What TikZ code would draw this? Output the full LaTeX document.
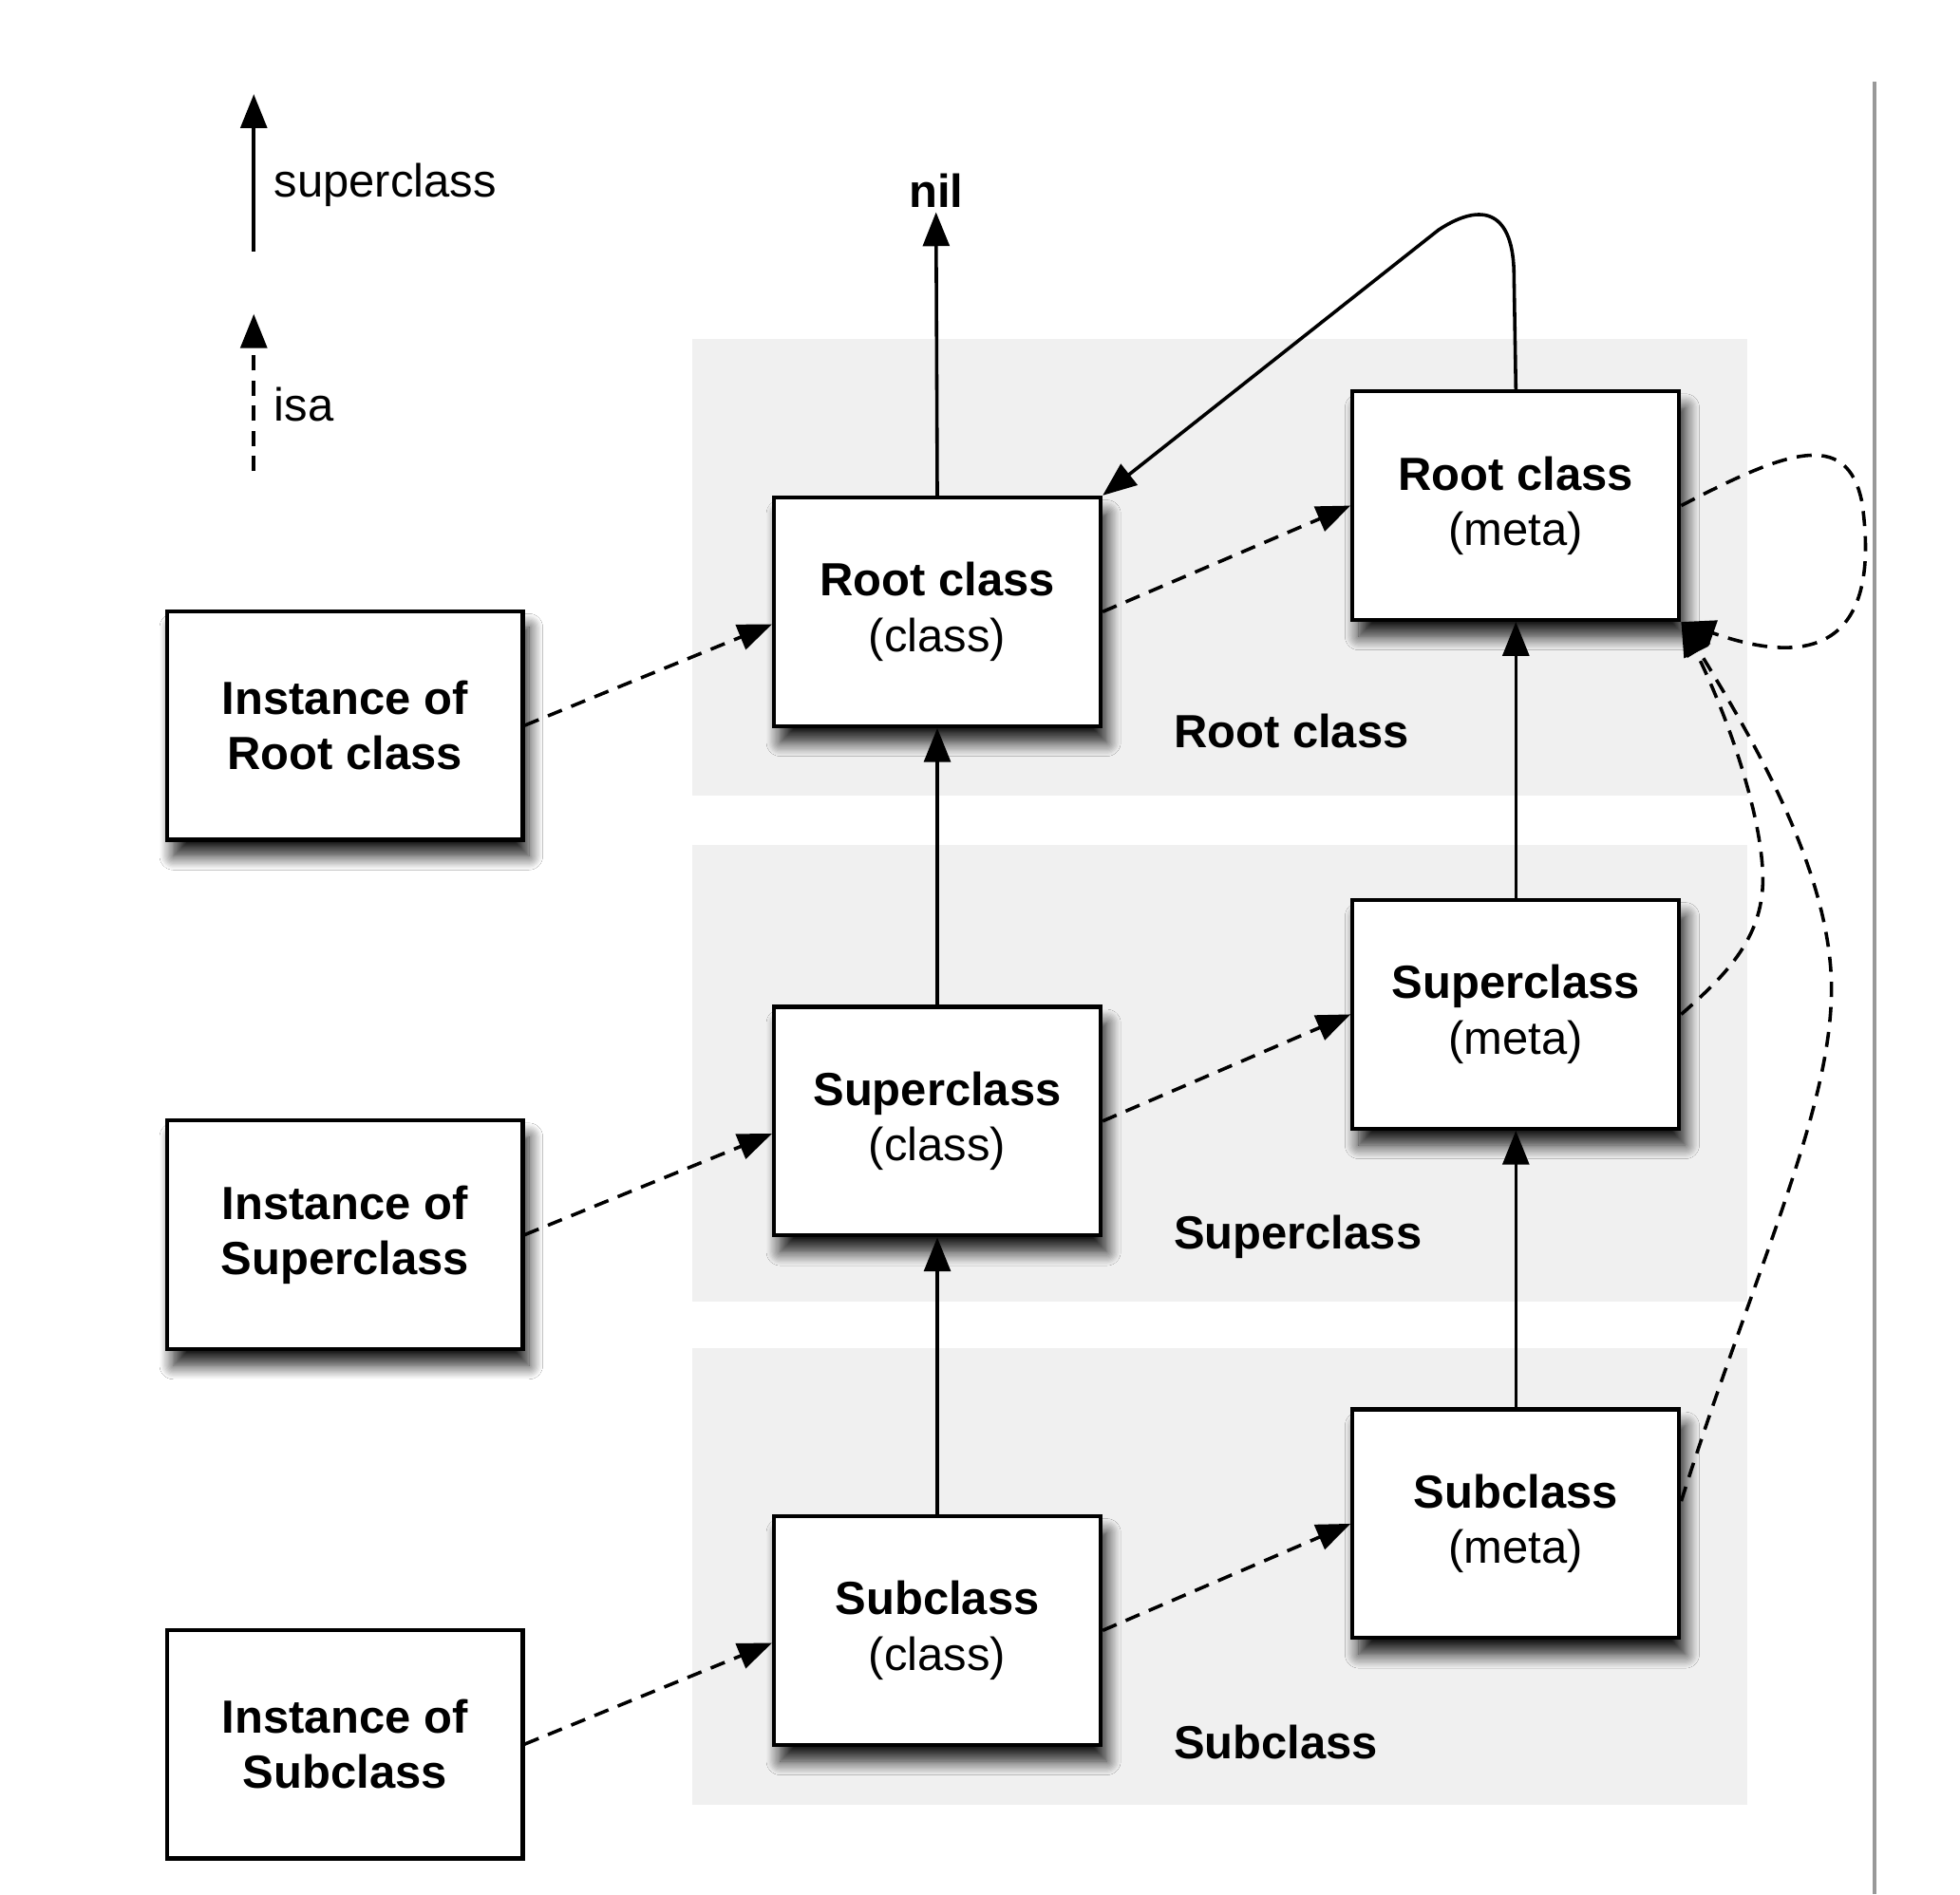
\documentclass[tikz,border=0pt]{standalone}
\usepackage{fontspec}
\setmainfont{Liberation Sans}
\usetikzlibrary{arrows.meta,shadows.blur}
\begin{document}
\begin{tikzpicture}[x=1pt,y=-1pt,
  box/.style={draw=black, line width=3.2pt, fill=white, minimum width=260pt, minimum height=182pt, align=center, inner sep=0pt, font=\fontsize{37}{44}\selectfont},
  ibox/.style={box, minimum width=283pt},
  shad/.style={blur shadow={shadow xshift=5pt, shadow yshift=-13pt, shadow blur radius=11pt, shadow opacity=90, shadow blur steps=12}},
  band/.style={fill=black!6, draw=none},
  supar/.style={-{Triangle[length=27pt,width=21pt]}, line width=2.7pt},
  isaar/.style={supar, dash pattern=on 12pt off 8pt},
  lbl/.style={font=\fontsize{37}{44}\selectfont\bfseries, anchor=west, inner sep=0pt},
  leg/.style={font=\fontsize{37}{44}\selectfont, anchor=west, inner sep=0pt},
]
\useasboundingbox (0,0) rectangle (1560,1508);
\fill[white] (0,0) rectangle (1560,1508);

% bands
\fill[band] (551,270) rectangle (1391,633);
\fill[band] (551,673) rectangle (1391,1036);
\fill[band] (551,1073) rectangle (1391,1437);

% right rule
\draw[black!40, line width=2.5pt] (1492,65) -- (1492,1508);

% legend
\coordinate (l1a) at (202,200);
\coordinate (l1b) at (202,75);
\coordinate (l2a) at (202,375);
\coordinate (l2b) at (202,250);
\draw[supar] (l1a) -- (l1b);
\draw[isaar] (l2a) -- (l2b);
\node[leg] (legsup) at (218,147) {superclass};
\node[leg] (legisa) at (218,322) {isa};

% band labels
\node[lbl] (bl1) at (934,582) {Root class};
\node[lbl] (bl2) at (934,985) {Superclass};
\node[lbl] (bl3) at (934,1387) {Subclass};

% boxes
\node[ibox,shad] (ic1) at (274.5,577.5) {\textbf{Instance of}\\\textbf{Root class}};
\node[ibox,shad] (ic2) at (274.5,983) {\textbf{Instance of}\\\textbf{Superclass}};
\node[ibox] (ic3) at (274.5,1388.5) {\textbf{Instance of}\\\textbf{Subclass}};

\node[box,shad] (c1) at (746,487) {\textbf{Root class}\\(class)};
\node[box,shad] (c2) at (746,892.5) {\textbf{Superclass}\\(class)};
\node[box,shad] (c3) at (746,1298) {\textbf{Subclass}\\(class)};

\node[box,shad] (m1) at (1206.5,402.5) {\textbf{Root class}\\(meta)};
\node[box,shad] (m2) at (1206.5,807.5) {\textbf{Superclass}\\(meta)};
\node[box,shad] (m3) at (1206.5,1213) {\textbf{Subclass}\\(meta)};

\node[font=\fontsize{37}{44}\selectfont\bfseries] (nil) at (745,152) {nil};

% superclass arrows
\draw[supar] (c1.north) -- (nil.south);
\draw[supar] (c2.north) -- (c1.south);
\draw[supar] (c3.north) -- (c2.south);
\draw[supar] (m2.north) -- (m1.south);
\draw[supar] (m3.north) -- (m2.south);
\draw[supar] (m1.north) -- (1205,220) .. controls (1205,168) and (1180,160) .. (1145,183) -- (c1.north east);

% isa arrows
\draw[isaar] (ic1.east) -- ([yshift=-10pt]c1.west);
\draw[isaar] (ic2.east) -- ([yshift=-10pt]c2.west);
\draw[isaar] (ic3.east) -- ([yshift=-10pt]c3.west);
\draw[isaar] (c1.east) -- (m1.west);
\draw[isaar] (c2.east) -- (m2.west);
\draw[isaar] (c3.east) -- (m3.west);

\draw[isaar] (m1.east) .. controls (1420,360) and (1470,340) .. (1482,400) .. controls (1492,470) and (1480,545) .. (m1.south east);
\draw[isaar] (m2.east) .. controls (1375,775) and (1405,745) .. (1403,695) .. controls (1401,645) and (1375,570) .. (m1.south east);
\draw[isaar] ([yshift=18pt]m3.east) .. controls (1400,1000) and (1465,870) .. (1457,770) .. controls (1450,680) and (1390,580) .. (m1.south east);
\end{tikzpicture}
\end{document}
